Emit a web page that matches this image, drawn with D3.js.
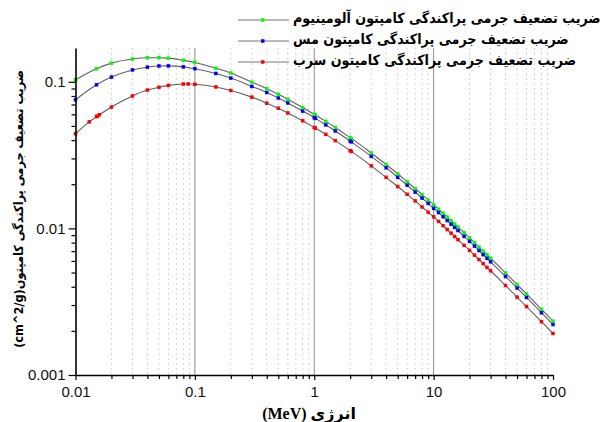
<!DOCTYPE html>
<html><head><meta charset="utf-8">
<script src="https://cdn.jsdelivr.net/npm/d3@7"></script>
<style>body{margin:0;background:#fff}svg{display:block}</style>
</head><body>
<svg id="chart" width="615" height="422"></svg>
<script>
// ---- data ----
const energies = [0.01,0.015,0.02,0.03,0.04,0.05,0.06,0.08,0.1,0.15,0.2,0.3,0.4,0.5,0.6,0.8,1,1.022,1.25,1.5,2,2.044,3,4,5,6,7,8,9,10,11,12,13,14,15,16,18,20,22,24,26,28,30,40,50,60,80,100];
const alValues = [0.1032,0.1227,0.1340,0.1430,0.1458,0.1460,0.1450,0.1400,0.1355,0.1235,0.1148,0.0995,0.0897,0.0822,0.0761,0.0668,0.0600,0.0594,0.0537,0.0488,0.0416,0.0411,0.0327,0.0273,0.0236,0.0208,0.0187,0.0170,0.0156,0.0145,0.01353,0.01268,0.01194,0.01129,0.01072,0.01021,0.00933,0.00862,0.00799,0.00745,0.00699,0.00660,0.00626,0.00497,0.00414,0.00357,0.00281,0.00233];
const cuValues = [0.0754,0.0954,0.1077,0.1205,0.1258,0.1282,0.1284,0.1264,0.1228,0.1140,0.1060,0.0930,0.0845,0.0775,0.0717,0.0631,0.0569,0.0563,0.0508,0.0462,0.0394,0.0389,0.0310,0.0259,0.0223,0.0197,0.0177,0.0161,0.0148,0.0137,0.01282,0.01201,0.01131,0.01069,0.01015,0.00967,0.00883,0.00816,0.00757,0.00706,0.00662,0.00625,0.00592,0.00470,0.00392,0.00338,0.00266,0.00221];
const pbEnergies = [0.01,0.013035,0.015,0.0152,0.01586,0.02,0.03,0.04,0.05,0.06,0.08,0.088,0.1,0.15,0.2,0.3,0.4,0.5,0.6,0.8,1,1.022,1.25,1.5,2,2.044,3,4,5,6,7,8,9,10,11,12,13,14,15,16,18,20,22,24,26,28,30,40,50,60,80,100];
const pbValues = [0.0442,0.0533,0.0578,0.0583,0.0596,0.0672,0.0800,0.0878,0.0918,0.0945,0.0965,0.0966,0.0962,0.0922,0.0872,0.0786,0.0715,0.0660,0.0613,0.0542,0.0488,0.0483,0.0438,0.0397,0.0339,0.0335,0.0267,0.0223,0.0193,0.0171,0.0154,0.0140,0.0129,0.0120,0.01115,0.01043,0.00982,0.00928,0.00880,0.00838,0.00766,0.00708,0.00657,0.00613,0.00575,0.00542,0.00514,0.00408,0.00340,0.00293,0.00231,0.00192];
const seriesNames = ["ضریب تضعیف جرمی پراکندگی کامپتون آلومینیوم","ضریب تضعیف جرمی پراکندگی کامپتون مس","ضریب تضعیف جرمی پراکندگی کامپتون سرب"];
const seriesColors = ["#00ff00","#0000ff","#ff0000"];
const xTickValues = [0.01,0.1,1,10,100];
const xTickLabels = ["0.01","0.1","1","10","100"];
const yTickValues = [0.001,0.01,0.1];
const yTickLabels = ["0.001","0.01","0.1"];
const xTitle = "(MeV) انرژی";
const yTitle = "(cm^2/g)ضریب تضعیف جرمی پراکندگی کامپتون";

// ---- layout ----
const svg = d3.select("#chart");
const L = 75.5, R = 553, T = 48, B = 375;
const x = d3.scaleLog().domain([0.01,100]).range([L,R]);
const y = d3.scaleLog().domain([0.001,0.17]).range([B,T]);

const minorX = [];
[0.01,0.1,1,10].forEach(d=>{for(let m=2;m<=9;m++) minorX.push(+(d*m).toPrecision(3));});
const minorY = [];
[0.001,0.01,0.1].forEach(d=>{for(let m=2;m<=9;m++){const v=+(d*m).toPrecision(3); if(v<=0.17) minorY.push(v);}});

// grid
svg.append("g").selectAll("line").data(minorX).join("line")
  .attr("x1",d=>x(d)).attr("x2",d=>x(d)).attr("y1",T).attr("y2",B)
  .attr("stroke","#d4d4d4").attr("stroke-width",1).attr("stroke-dasharray","2,3");
svg.append("g").selectAll("line").data([0.1,1,10]).join("line")
  .attr("x1",d=>x(d)).attr("x2",d=>x(d)).attr("y1",T).attr("y2",B)
  .attr("stroke","#8c8c8c").attr("stroke-width",1);

// series
const series = [
  {e:energies, v:alValues},
  {e:energies, v:cuValues},
  {e:pbEnergies, v:pbValues}
];
const line = d3.line().x(d=>x(d[0])).y(d=>y(d[1])).curve(d3.curveMonotoneX);
series.forEach((s,i)=>{
  const pts = s.e.map((e,j)=>[e,s.v[j]]);
  svg.append("path").datum(pts).attr("d",line).attr("fill","none")
    .attr("stroke","#606060").attr("stroke-width",1.1);
});
series.forEach((s,i)=>{
  const pts = s.e.map((e,j)=>[e,s.v[j]]);
  svg.append("g").selectAll("rect").data(pts).join("rect")
    .attr("x",d=>x(d[0])-1.75).attr("y",d=>y(d[1])-1.75).attr("width",3.5).attr("height",3.5)
    .attr("fill",seriesColors[i]);
});

// axes
const fontTick = "'Liberation Sans', Arial, sans-serif";
const gx = svg.append("g").attr("transform",`translate(0,${B})`)
  .call(d3.axisBottom(x).tickValues(xTickValues).tickFormat((d,i)=>xTickLabels[i]).tickSize(5).tickSizeOuter(0));
svg.append("g").attr("transform",`translate(0,${B})`)
  .call(d3.axisBottom(x).tickValues(minorX).tickFormat("").tickSize(4).tickSizeOuter(0))
  .call(g=>g.select(".domain").remove());
const gy = svg.append("g").attr("transform",`translate(${L},0)`)
  .call(d3.axisLeft(y).tickValues(yTickValues).tickFormat((d,i)=>yTickLabels[i]).tickSize(7).tickSizeOuter(0));
svg.append("g").attr("transform",`translate(${L},0)`)
  .call(d3.axisLeft(y).tickValues(minorY).tickFormat("").tickSize(4).tickSizeOuter(0))
  .call(g=>g.select(".domain").remove());
svg.selectAll(".domain").attr("stroke","#000").attr("stroke-width",1.6);
svg.selectAll(".tick line").attr("stroke","#000").attr("stroke-width",1.2);
gx.selectAll("text").attr("font-family",fontTick).attr("font-size",15).attr("fill","#111").attr("dy","0.95em");
gy.selectAll("text").attr("font-family",fontTick).attr("font-size",15).attr("fill","#111").attr("x",-10);

// titles
const arabicFont = "'DejaVu Sans Condensed', 'DejaVu Sans', sans-serif";
svg.append("text").attr("x",309).attr("y",413).attr("dy","0.35em").attr("text-anchor","middle")
  .attr("font-family","'Liberation Serif', 'DejaVu Sans', serif").attr("font-weight","bold").attr("font-size",16)
  .text(xTitle);
const yt = svg.append("text").attr("transform","translate(19,209) rotate(-90)").attr("text-anchor","middle")
  .attr("dy","0.35em").attr("font-family",arabicFont).attr("font-weight","bold").attr("font-size",13)
  .text(yTitle);
const ytw = yt.node().getComputedTextLength();
if (ytw>0) yt.attr("font-size", 13*278/ytw);

// legend
const legRows = [20,41,62];
const lg = svg.append("g");
const lts = [];
seriesNames.forEach((name,i)=>{
  lg.append("line").attr("x1",238).attr("x2",289).attr("y1",legRows[i]).attr("y2",legRows[i])
    .attr("stroke","#777").attr("stroke-width",1.2);
  lg.append("rect").attr("x",261).attr("y",legRows[i]-1.75).attr("width",3.5).attr("height",3.5).attr("fill",seriesColors[i]);
  lts.push(lg.append("text").attr("x",293).attr("y",legRows[i]-2).attr("dy","0.35em")
    .attr("font-family",arabicFont).attr("font-weight","bold").attr("font-size",14)
    .text(name));
});
const w0 = lts[0].node().getComputedTextLength();
if (w0>0) lts.forEach(t=>t.attr("font-size",14*308/w0));
</script>
</body></html>
